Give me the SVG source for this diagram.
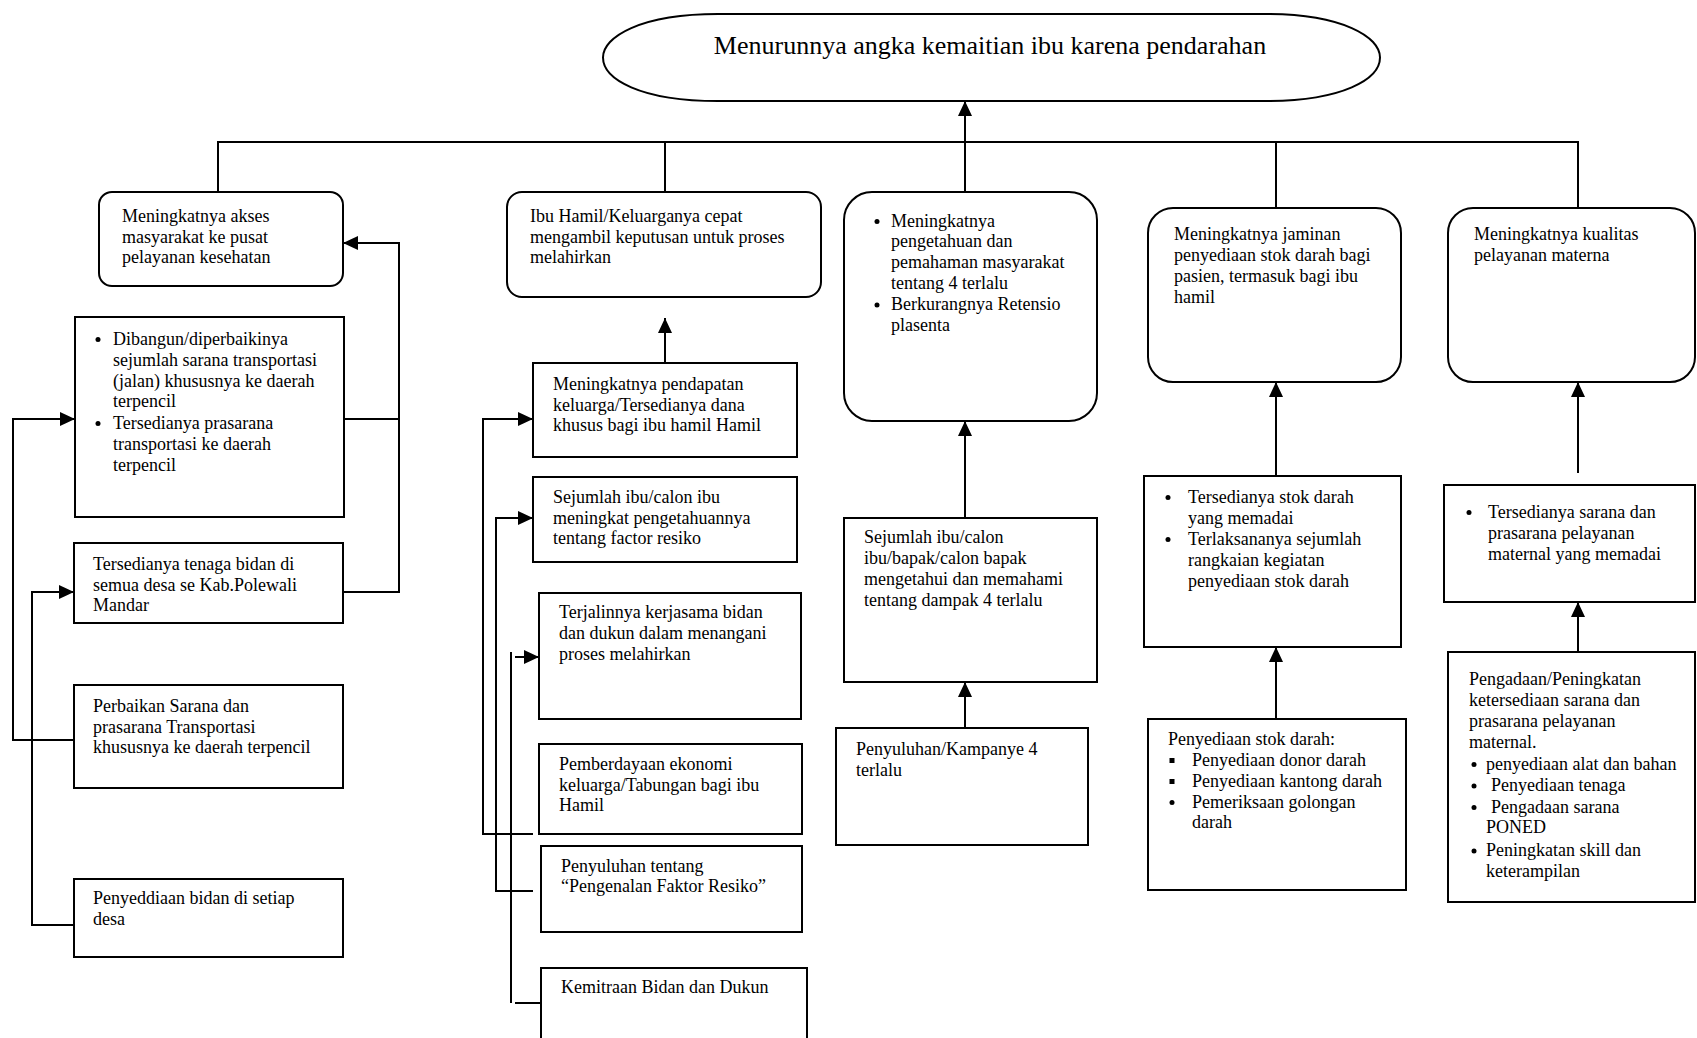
<svg xmlns="http://www.w3.org/2000/svg" width="1697" height="1038" viewBox="0 0 1697 1038">
<style>
.box{fill:#fff;stroke:#000;stroke-width:2}
.t{font-family:"Liberation Serif","Times New Roman",serif;font-size:18px;fill:#000}
.title{font-family:"Liberation Serif","Times New Roman",serif;font-size:26px;fill:#000}
.c{fill:none;stroke:#000;stroke-width:2}
.b{fill:#000}
</style>
<defs>
<marker id="ah" markerUnits="userSpaceOnUse" markerWidth="15" markerHeight="14" refX="15" refY="7" orient="auto">
<path d="M0,0 L15,7 L0,14 z" fill="#000"/>
</marker>
</defs>
<rect width="1697" height="1038" fill="#fff"/>

<g id="connectors">
<path class="c" d="M218,192 V142 H1578 V208"/>
<path class="c" d="M665,142 V192"/>
<path class="c" d="M965,192 V142"/>
<path class="c" d="M965,142 V101" marker-end="url(#ah)"/>
<path class="c" d="M1276,142 V208"/>
<!-- col 1 -->
<path class="c" d="M344,592 H399 V243 H343" marker-end="url(#ah)"/>
<path class="c" d="M344,419 H399"/>
<path class="c" d="M74,740 H13 V419 H75" marker-end="url(#ah)"/>
<path class="c" d="M74,925 H32 V592 H74" marker-end="url(#ah)"/>
<!-- col 2 -->
<path class="c" d="M665,363 V318" marker-end="url(#ah)"/>
<path class="c" d="M533,834 H483 V419 H533" marker-end="url(#ah)"/>
<path class="c" d="M533,891 H496 V518 H533" marker-end="url(#ah)"/>
<path class="c" d="M511,652 V1003"/>
<path class="c" d="M515,657 H539" marker-end="url(#ah)"/>
<path class="c" d="M515,1003 H541"/>
<!-- col 3 -->
<path class="c" d="M965,518 V421" marker-end="url(#ah)"/>
<path class="c" d="M965,728 V682" marker-end="url(#ah)"/>
<!-- col 4 -->
<path class="c" d="M1276,476 V382" marker-end="url(#ah)"/>
<path class="c" d="M1276,719 V647" marker-end="url(#ah)"/>
<!-- col 5 -->
<path class="c" d="M1578,473 V382" marker-end="url(#ah)"/>
<path class="c" d="M1578,652 V602" marker-end="url(#ah)"/>
</g>

<g id="goal">
<path class="box" d="M718,14 H1265 C1343,14 1380,37 1380,57.5 C1380,79 1343,101 1265,101 H718 C640,101 603,79 603,57.5 C603,37 640,14 718,14 Z"/>
<text class="title" x="990" y="54" text-anchor="middle">Menurunnya angka kemaitian ibu karena pendarahan</text>
</g>

<!-- Column 1 -->
<g id="a1">
<rect class="box" x="99" y="192" width="244" height="94" rx="13"/>
<text class="t"><tspan x="122" y="222">Meningkatnya akses</tspan><tspan x="122" y="243">masyarakat ke pusat</tspan><tspan x="122" y="263">pelayanan kesehatan</tspan></text>
</g>
<g id="b1">
<rect class="box" x="75" y="317" width="269" height="200"/>
<circle class="b" cx="98" cy="339.5" r="2.5"/>
<circle class="b" cx="98" cy="423.5" r="2.5"/>
<text class="t"><tspan x="113" y="345">Dibangun/diperbaikinya</tspan><tspan x="113" y="366">sejumlah sarana transportasi</tspan><tspan x="113" y="387">(jalan) khususnya ke daerah</tspan><tspan x="113" y="407">terpencil</tspan><tspan x="113" y="429">Tersedianya prasarana</tspan><tspan x="113" y="450">transportasi ke daerah</tspan><tspan x="113" y="471">terpencil</tspan></text>
</g>
<g id="c1">
<rect class="box" x="74" y="543" width="269" height="80"/>
<text class="t"><tspan x="93" y="570">Tersedianya tenaga bidan di</tspan><tspan x="93" y="591">semua desa se Kab.Polewali</tspan><tspan x="93" y="611">Mandar</tspan></text>
</g>
<g id="d1">
<rect class="box" x="74" y="685" width="269" height="103"/>
<text class="t"><tspan x="93" y="712">Perbaikan Sarana dan</tspan><tspan x="93" y="733">prasarana Transportasi</tspan><tspan x="93" y="753">khususnya ke daerah terpencil</tspan></text>
</g>
<g id="e1">
<rect class="box" x="74" y="879" width="269" height="78"/>
<text class="t"><tspan x="93" y="904">Penyeddiaan bidan di setiap</tspan><tspan x="93" y="925">desa</tspan></text>
</g>

<!-- Column 2 -->
<g id="a2">
<rect class="box" x="507" y="192" width="314" height="105" rx="15"/>
<text class="t"><tspan x="530" y="222">Ibu Hamil/Keluarganya cepat</tspan><tspan x="530" y="243">mengambil keputusan untuk proses</tspan><tspan x="530" y="263">melahirkan</tspan></text>
</g>
<g id="b2">
<rect class="box" x="533" y="363" width="264" height="94"/>
<text class="t"><tspan x="553" y="390">Meningkatnya pendapatan</tspan><tspan x="553" y="411">keluarga/Tersedianya dana</tspan><tspan x="553" y="431">khusus bagi ibu hamil Hamil</tspan></text>
</g>
<g id="c2">
<rect class="box" x="533" y="477" width="264" height="85"/>
<text class="t"><tspan x="553" y="503">Sejumlah ibu/calon ibu</tspan><tspan x="553" y="524">meningkat pengetahuannya</tspan><tspan x="553" y="544">tentang factor resiko</tspan></text>
</g>
<g id="d2">
<rect class="box" x="539" y="593" width="262" height="126"/>
<text class="t"><tspan x="559" y="618">Terjalinnya kerjasama bidan</tspan><tspan x="559" y="639">dan dukun dalam menangani</tspan><tspan x="559" y="660">proses melahirkan</tspan></text>
</g>
<g id="e2">
<rect class="box" x="539" y="744" width="263" height="90"/>
<text class="t"><tspan x="559" y="770">Pemberdayaan ekonomi</tspan><tspan x="559" y="791">keluarga/Tabungan bagi ibu</tspan><tspan x="559" y="811">Hamil</tspan></text>
</g>
<g id="f2">
<rect class="box" x="541" y="846" width="261" height="86"/>
<text class="t"><tspan x="561" y="872">Penyuluhan tentang</tspan><tspan x="561" y="892">“Pengenalan Faktor Resiko”</tspan></text>
</g>
<g id="g2">
<rect class="box" x="541" y="968" width="266" height="80"/>
<text class="t" x="561" y="993">Kemitraan Bidan dan Dukun</text>
</g>

<!-- Column 3 -->
<g id="a3">
<rect class="box" x="844" y="192" width="253" height="229" rx="28"/>
<circle class="b" cx="877" cy="221.5" r="2.5"/>
<circle class="b" cx="877" cy="305" r="2.5"/>
<text class="t"><tspan x="891" y="227">Meningkatnya</tspan><tspan x="891" y="247">pengetahuan dan</tspan><tspan x="891" y="268">pemahaman masyarakat</tspan><tspan x="891" y="289">tentang 4 terlalu</tspan><tspan x="891" y="310">Berkurangnya Retensio</tspan><tspan x="891" y="331">plasenta</tspan></text>
</g>
<g id="b3">
<rect class="box" x="844" y="518" width="253" height="164"/>
<text class="t"><tspan x="864" y="543">Sejumlah ibu/calon</tspan><tspan x="864" y="564">ibu/bapak/calon bapak</tspan><tspan x="864" y="585">mengetahui dan memahami</tspan><tspan x="864" y="606">tentang dampak 4 terlalu</tspan></text>
</g>
<g id="c3">
<rect class="box" x="836" y="728" width="252" height="117"/>
<text class="t"><tspan x="856" y="755">Penyuluhan/Kampanye 4</tspan><tspan x="856" y="776">terlalu</tspan></text>
</g>

<!-- Column 4 -->
<g id="a4">
<rect class="box" x="1148" y="208" width="253" height="174" rx="25"/>
<text class="t"><tspan x="1174" y="240">Meningkatnya jaminan</tspan><tspan x="1174" y="261">penyediaan stok darah bagi</tspan><tspan x="1174" y="282">pasien, termasuk bagi ibu</tspan><tspan x="1174" y="303">hamil</tspan></text>
</g>
<g id="b4">
<rect class="box" x="1144" y="476" width="257" height="171"/>
<circle class="b" cx="1168" cy="497.5" r="2.5"/>
<circle class="b" cx="1168" cy="539.5" r="2.5"/>
<text class="t"><tspan x="1188" y="503">Tersedianya stok darah</tspan><tspan x="1188" y="524">yang memadai</tspan><tspan x="1188" y="545">Terlaksananya sejumlah</tspan><tspan x="1188" y="566">rangkaian kegiatan</tspan><tspan x="1188" y="587">penyediaan stok darah</tspan></text>
</g>
<g id="c4">
<rect class="box" x="1148" y="719" width="258" height="171"/>
<rect class="b" x="1169.5" y="758" width="5" height="5"/>
<rect class="b" x="1169.5" y="779" width="5" height="5"/>
<circle class="b" cx="1172" cy="802.5" r="2.5"/>
<text class="t"><tspan x="1168" y="745">Penyediaan stok darah:</tspan><tspan x="1192" y="766">Penyediaan donor darah</tspan><tspan x="1192" y="787">Penyediaan kantong darah</tspan><tspan x="1192" y="808">Pemeriksaan golongan</tspan><tspan x="1192" y="828">darah</tspan></text>
</g>

<!-- Column 5 -->
<g id="a5">
<rect class="box" x="1448" y="208" width="247" height="174" rx="25"/>
<text class="t"><tspan x="1474" y="240">Meningkatnya kualitas</tspan><tspan x="1474" y="261">pelayanan materna</tspan></text>
</g>
<g id="b5">
<rect class="box" x="1444" y="485" width="251" height="117"/>
<circle class="b" cx="1469" cy="512.5" r="2.5"/>
<text class="t"><tspan x="1488" y="518">Tersedianya sarana dan</tspan><tspan x="1488" y="539">prasarana pelayanan</tspan><tspan x="1488" y="560">maternal yang memadai</tspan></text>
</g>
<g id="c5">
<rect class="box" x="1448" y="652" width="247" height="250"/>
<circle class="b" cx="1474" cy="764.5" r="2.5"/>
<circle class="b" cx="1474" cy="786" r="2.5"/>
<circle class="b" cx="1474" cy="807.5" r="2.5"/>
<circle class="b" cx="1474" cy="851" r="2.5"/>
<text class="t"><tspan x="1469" y="685">Pengadaan/Peningkatan</tspan><tspan x="1469" y="706">ketersediaan sarana dan</tspan><tspan x="1469" y="727">prasarana pelayanan</tspan><tspan x="1469" y="748">maternal.</tspan><tspan x="1486" y="770">penyediaan alat dan bahan</tspan><tspan x="1491" y="791">Penyediaan tenaga</tspan><tspan x="1491" y="813">Pengadaan sarana</tspan><tspan x="1486" y="833">PONED</tspan><tspan x="1486" y="856">Peningkatan skill dan</tspan><tspan x="1486" y="877">keterampilan</tspan></text>
</g>
</svg>
